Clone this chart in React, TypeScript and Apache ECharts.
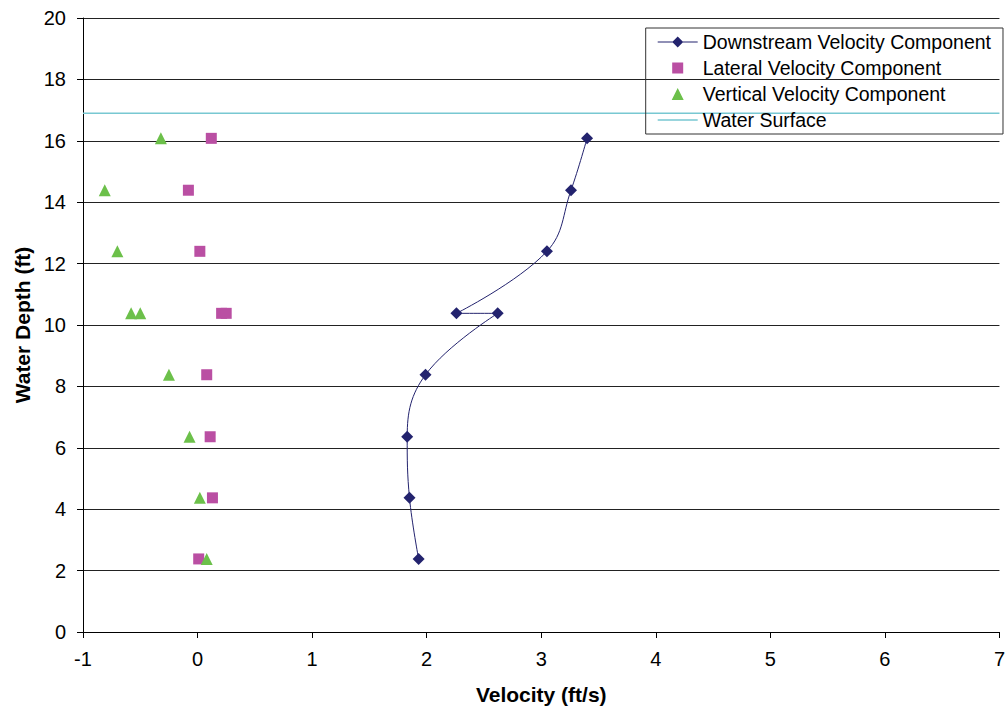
import React, { useEffect, useRef } from "react";
import * as echarts from "echarts";

const depths = [2.38, 4.37, 6.36, 8.38, 10.38, 10.38, 12.4, 14.39, 16.08];
const downstream = [1.93, 1.85, 1.83, 1.99, 2.62, 2.26, 3.05, 3.26, 3.40];
const lateral = [0.01, 0.13, 0.11, 0.08, 0.21, 0.25, 0.02, -0.08, 0.12];
const vertical = [0.08, 0.02, -0.07, -0.25, -0.58, -0.50, -0.70, -0.81, -0.32];
const waterSurfaceDepth = 16.9;
const xRange = [-1, 7];

const seriesNames = [
  "Downstream Velocity Component",
  "Lateral Velocity Component",
  "Vertical Velocity Component",
  "Water Surface",
];

// legend icons with a 40x12 bounding box (tiny corner marks keep the box)
const corners = "M0,0L0.01,0L0,0.01Z M40,12L39.99,12L40,11.99Z";
const iconDiamondLine =
  "path://" + corners + " M0,5.5L40,5.5L40,6.5L0,6.5Z M20,0.5L25.5,6L20,11.5L14.5,6Z";
const iconSquare = "path://" + corners + " M14.5,0.5L25.5,0.5L25.5,11.5L14.5,11.5Z";
const iconTriangle = "path://" + corners + " M14,12L20,0L26,12Z";
const iconLine = "path://" + corners + " M0,5.25L40,5.25L40,6.75L0,6.75Z";

export default function App() {
  const ref = useRef<HTMLDivElement>(null);
  useEffect(() => {
    document.body.style.margin = "0";
    const chart = echarts.init(ref.current!, null, { renderer: "svg" });
    const font = "'Liberation Sans', Arial, sans-serif";
    chart.setOption({
      animation: false,
      textStyle: { fontFamily: font },
      grid: { left: 83, right: 5, top: 18, bottom: 79, containLabel: false },
      legend: {
        orient: "vertical",
        right: 5,
        top: 28,
        padding: [4, 12, 4, 12],
        itemGap: 6,
        itemWidth: 40,
        itemHeight: 12,
        borderColor: "#333",
        borderWidth: 1,
        borderRadius: 0,
        textStyle: { fontSize: 19.5, color: "#000", fontFamily: font },
        data: [
          { name: seriesNames[0], icon: iconDiamondLine },
          { name: seriesNames[1], icon: iconSquare },
          { name: seriesNames[2], icon: iconTriangle },
          { name: seriesNames[3], icon: iconLine },
        ],
      },
      xAxis: {
        type: "value",
        min: xRange[0],
        max: xRange[1],
        interval: 1,
        name: "Velocity (ft/s)",
        nameLocation: "middle",
        nameGap: 52,
        nameTextStyle: { fontSize: 21, fontWeight: "bold", color: "#000" },
        axisLine: { onZero: false, lineStyle: { color: "#000" } },
        axisTick: { show: true, length: 6, lineStyle: { color: "#000" } },
        axisLabel: { fontSize: 20, color: "#000", margin: 17 },
        splitLine: { show: false },
      },
      yAxis: {
        type: "value",
        min: 0,
        max: 20,
        interval: 2,
        name: "Water Depth (ft)",
        nameLocation: "middle",
        nameGap: 50,
        nameTextStyle: { fontSize: 21, fontWeight: "bold", color: "#000" },
        axisLine: { show: true, onZero: false, lineStyle: { color: "#000" } },
        axisTick: { show: true, length: 6, lineStyle: { color: "#000" } },
        axisLabel: { fontSize: 20, color: "#000", margin: 17 },
        splitLine: { show: true, lineStyle: { color: "#222", width: 1 } },
      },
      series: [
        {
          name: seriesNames[0],
          type: "line",
          smooth: 0.4,
          data: depths.map((d, i) => [downstream[i], d]),
          symbol: "diamond",
          symbolSize: 12,
          lineStyle: { color: "#23236E", width: 1 },
          itemStyle: { color: "#23236E" },
          z: 5,
        },
        {
          name: seriesNames[1],
          type: "scatter",
          data: depths.map((d, i) => [lateral[i], d]),
          symbol: "rect",
          symbolSize: 11,
          symbolKeepAspect: true,
          itemStyle: { color: "#BA4FA3", opacity: 1 },
          z: 4,
        },
        {
          name: seriesNames[2],
          type: "scatter",
          data: depths.map((d, i) => [vertical[i], d]),
          symbol: "triangle",
          symbolSize: 12,
          symbolKeepAspect: true,
          itemStyle: { color: "#6CC04A", opacity: 1 },
          z: 4,
        },
        {
          name: seriesNames[3],
          type: "line",
          data: xRange.map((x) => [x, waterSurfaceDepth]),
          symbol: "none",
          showSymbol: false,
          lineStyle: { color: "#78C8D2", width: 1.5 },
          itemStyle: { color: "#78C8D2" },
          z: 3,
        },
      ],
    });
    return () => chart.dispose();
  }, []);
  return <div ref={ref} style={{ width: 1008, height: 711 }} />;
}
